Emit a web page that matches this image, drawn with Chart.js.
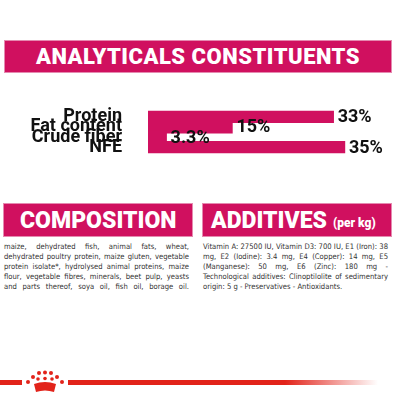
<!DOCTYPE html>
<html><head><meta charset="utf-8">
<script src="https://cdn.jsdelivr.net/npm/chart.js@4"></script>
<style>
body{margin:0;width:400px;height:400px;background:#fff;position:relative;overflow:hidden;font-family:Roboto,sans-serif}
.band{position:absolute;background:#d0105f;color:#fff;font-weight:900;box-sizing:border-box;border:1px solid #e58ab0;display:flex;align-items:center}
.txt{position:absolute;font-family:"Liberation Sans Narrow","DejaVu Sans Condensed",sans-serif;font-size:7.6px;line-height:10.1px;color:#333;text-align:justify;text-align-last:justify}
#c{position:absolute;left:0;top:82px}
</style></head><body>
<div class="band" style="left:4px;top:40px;width:388px;height:33px;justify-content:center;font-size:22px;letter-spacing:0.5px">ANALYTICALS CONSTITUENTS</div>
<canvas id="c" width="400" height="100" style="width:400px;height:100px"></canvas>
<div class="band" style="left:3px;top:203px;width:190px;height:34px;padding-left:16px;font-size:23px">COMPOSITION</div>
<div class="band" style="left:202px;top:203px;width:190px;height:34px;padding-left:8px;font-size:23px">ADDITIVES<span style="font-size:12px;margin-left:6px;margin-top:6px">(per kg)</span></div>
<div class="txt" style="left:4px;top:242px;width:185px">maize, dehydrated fish, animal fats, wheat, dehydrated poultry protein, maize gluten, vegetable protein isolate*, hydrolysed animal proteins, maize flour, vegetable fibres, minerals, beet pulp, yeasts and parts thereof, soya oil, fish oil, borage oil.</div>
<div class="txt" style="left:203px;top:242px;width:185px;text-align-last:left">Vitamin A: 27500 IU, Vitamin D3: 700 IU, E1 (Iron): 38 mg, E2 (Iodine): 3.4 mg, E4 (Copper): 14 mg, E5 (Manganese): 50 mg, E6 (Zinc): 180 mg - Technological additives: Clinoptilolite of sedimentary origin: 5 g - Preservatives - Antioxidants.</div>
<div style="position:absolute;left:0;top:380px;width:22px;height:5px;background:#e2231a"></div>
<div style="position:absolute;left:68px;top:380px;width:310px;height:5px;background:linear-gradient(to right,#e2231a 70%,rgba(226,35,26,0))"></div>
<svg style="position:absolute;left:24px;top:370px" width="42" height="26" viewBox="0 0 42 26" fill="#e2231a">
<circle cx="15" cy="3" r="2"/><circle cx="21" cy="2.5" r="2"/><circle cx="27" cy="3" r="2"/>
<circle cx="9" cy="7" r="2"/><circle cx="33" cy="7" r="2"/><circle cx="4" cy="12" r="2"/><circle cx="38" cy="12" r="2"/>
<circle cx="14" cy="9" r="1.8"/><circle cx="21" cy="8.5" r="1.8"/><circle cx="28" cy="9" r="1.8"/>
<path d="M10 14 Q21 10 32 14 L30 22 Q21 19 12 22 Z"/></svg>
<script>
const categories = ["Protein", "Fat content", "Crude fiber", "NFE"];
const values = [33, 15, 3.3, 35];
const valueLabels = ["33%", "15%", "3.3%", "35%"];

const pink = "#d0105f";

const valueText = {
    id: "valueText",
    afterDatasetsDraw(chart) {
        const { ctx } = chart;
        const meta = chart.getDatasetMeta(0);
        ctx.save();
        ctx.font = "bold 18px Roboto";
        ctx.fillStyle = "#111";
        ctx.textBaseline = "middle";
        meta.data.forEach((bar, i) => {
            ctx.fillText(valueLabels[i], bar.x + 4, bar.y + 1);
        });
        ctx.restore();
    },
};

new Chart(document.getElementById("c"), {
    type: "bar",
    data: {
        labels: categories,
        datasets: [{ data: values, backgroundColor: pink, barThickness: 13 }],
    },
    options: {
        indexAxis: "y",
        responsive: false,
        animation: false,
        devicePixelRatio: 1,
        layout: { padding: { right: 27 } },
        scales: {
            x: { display: false, min: 0, max: 40 },
            y: {
                grid: { display: false },
                border: { display: false },
                ticks: { color: "#111", font: { family: "Roboto", weight: "bold", size: 18 }, padding: 18 },
                afterFit: (s) => { s.width = 148; },
            },
        },
        plugins: { legend: { display: false }, tooltip: { enabled: false } },
    },
    plugins: [valueText],
});
</script>
</body></html>
